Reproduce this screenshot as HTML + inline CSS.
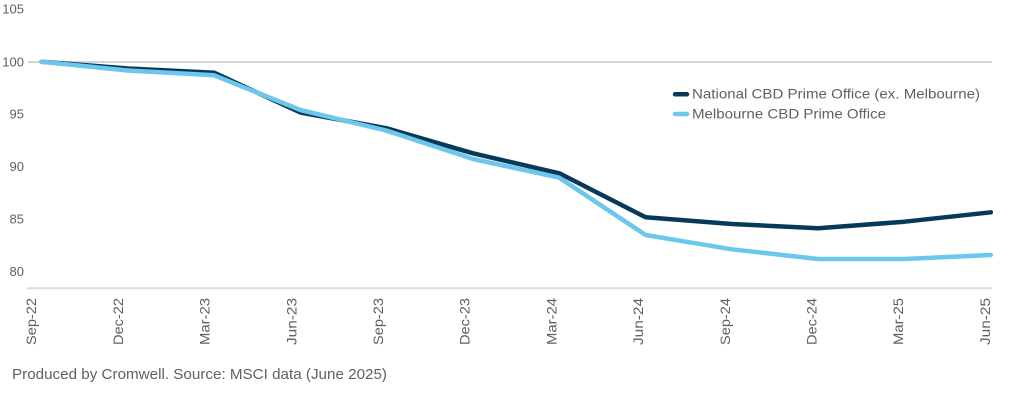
<!DOCTYPE html>
<html>
<head>
<meta charset="utf-8">
<style>
html,body{margin:0;padding:0;background:#fff;}
svg{display:block;}
text{font-family:"Liberation Sans",sans-serif;fill:#606060;}
</style>
</head>
<body>
<svg width="1022" height="401" viewBox="0 0 1022 401" xmlns="http://www.w3.org/2000/svg">
  <!-- gridline at 100 -->
  <line x1="28" y1="62" x2="992" y2="62" stroke="#d4d4d4" stroke-width="2"/>
  <!-- bottom axis -->
  <line x1="27" y1="288.3" x2="992" y2="288.3" stroke="#dcdcdc" stroke-width="2"/>

  <!-- y labels -->
  <g font-size="13" text-anchor="end">
    <text x="24" y="13.5">105</text>
    <text x="24" y="66.5">100</text>
    <text x="24" y="118.5">95</text>
    <text x="24" y="171">90</text>
    <text x="24" y="223.5">85</text>
    <text x="24" y="276">80</text>
  </g>

  <!-- x labels -->
  <g font-size="13.5" text-anchor="end">
    <text transform="translate(36.2,298) rotate(-90)" textLength="47" lengthAdjust="spacingAndGlyphs">Sep-22</text>
    <text transform="translate(122.9,298) rotate(-90)" textLength="47" lengthAdjust="spacingAndGlyphs">Dec-22</text>
    <text transform="translate(209.6,298) rotate(-90)" textLength="47" lengthAdjust="spacingAndGlyphs">Mar-23</text>
    <text transform="translate(296.3,298) rotate(-90)" textLength="47" lengthAdjust="spacingAndGlyphs">Jun-23</text>
    <text transform="translate(383,298) rotate(-90)" textLength="47" lengthAdjust="spacingAndGlyphs">Sep-23</text>
    <text transform="translate(469.7,298) rotate(-90)" textLength="47" lengthAdjust="spacingAndGlyphs">Dec-23</text>
    <text transform="translate(556.4,298) rotate(-90)" textLength="47" lengthAdjust="spacingAndGlyphs">Mar-24</text>
    <text transform="translate(643.1,298) rotate(-90)" textLength="47" lengthAdjust="spacingAndGlyphs">Jun-24</text>
    <text transform="translate(729.8,298) rotate(-90)" textLength="47" lengthAdjust="spacingAndGlyphs">Sep-24</text>
    <text transform="translate(816.5,298) rotate(-90)" textLength="47" lengthAdjust="spacingAndGlyphs">Dec-24</text>
    <text transform="translate(903.2,298) rotate(-90)" textLength="47" lengthAdjust="spacingAndGlyphs">Mar-25</text>
    <text transform="translate(989.9,298) rotate(-90)" textLength="47" lengthAdjust="spacingAndGlyphs">Jun-25</text>
  </g>

  <!-- National series -->
  <polyline fill="none" stroke="#063a5b" stroke-width="4.5" stroke-linejoin="round" stroke-linecap="round"
    points="41.5,61.7 127.8,68.5 214.1,72.7 300.4,112.5 386.7,128.3 473,153.3 559.3,173.3 645.6,217.3 731.9,224 818.2,228.3 904.5,221.7 990.8,212.3"/>
  <!-- Melbourne series -->
  <polyline fill="none" stroke="#6dc6ec" stroke-width="4.5" stroke-linejoin="round" stroke-linecap="round"
    points="41.5,61.7 127.8,70.5 214.1,75.3 300.4,110 386.7,130.7 473,159 559.3,177.7 645.6,235 731.9,249.3 818.2,259 904.5,259 990.8,255"/>

  <!-- legend -->
  <line x1="675" y1="94.3" x2="687" y2="94.3" stroke="#063a5b" stroke-width="4.5" stroke-linecap="round"/>
  <line x1="675" y1="114" x2="687" y2="114" stroke="#6dc6ec" stroke-width="4.5" stroke-linecap="round"/>
  <text x="692" y="98.5" font-size="14" textLength="288" lengthAdjust="spacingAndGlyphs">National CBD Prime Office (ex. Melbourne)</text>
  <text x="692" y="118.3" font-size="14" textLength="194" lengthAdjust="spacingAndGlyphs">Melbourne CBD Prime Office</text>

  <!-- footer -->
  <text x="12" y="379" font-size="14.5" textLength="375" lengthAdjust="spacingAndGlyphs">Produced by Cromwell. Source: MSCI data (June 2025)</text>
</svg>
</body>
</html>
